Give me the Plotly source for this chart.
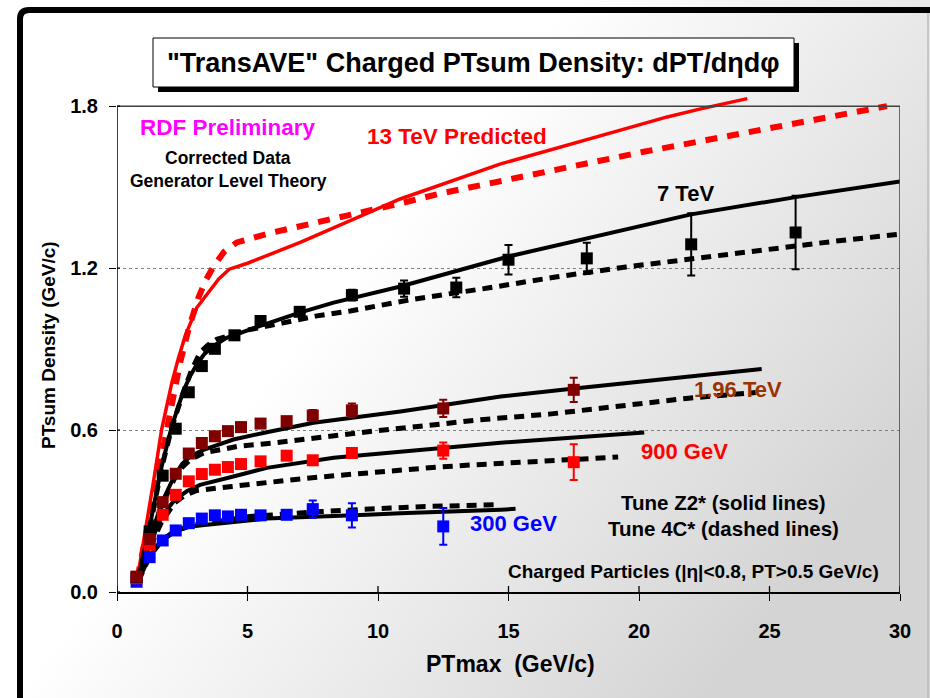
import base64
import plotly.graph_objects as go

# ---------------- data: measured points ----------------
x_7tev = [0.75, 1.25, 1.75, 2.25, 2.75, 3.25, 3.75, 4.5, 5.5, 7, 9, 11, 13, 15, 18, 22, 26]
y_7tev = [0.055, 0.224, 0.431, 0.605, 0.740, 0.837, 0.901, 0.951, 1.004, 1.038, 1.100, 1.124,
          1.128, 1.231, 1.236, 1.288, 1.332]
e_7tev = [0.005, 0.005, 0.008, 0.008, 0.008, 0.010, 0.010, 0.012, 0.015, 0.015, 0.020, 0.030,
          0.036, 0.055, 0.058, 0.115, 0.136]

x_196 = [0.75, 1.25, 1.75, 2.25, 2.75, 3.25, 3.75, 4.25, 4.75, 5.5, 6.5, 7.5, 9, 12.5, 17.5]
y_196 = [0.057, 0.196, 0.333, 0.438, 0.513, 0.552, 0.577, 0.596, 0.611, 0.624, 0.633, 0.654,
         0.673, 0.680, 0.749]
e_196 = [0.004, 0.005, 0.006, 0.008, 0.008, 0.008, 0.010, 0.010, 0.010, 0.012, 0.015, 0.020,
         0.025, 0.032, 0.045]

x_900 = [0.75, 1.25, 1.75, 2.25, 2.75, 3.25, 3.75, 4.25, 4.75, 5.5, 6.5, 7.5, 9, 12.5, 17.5]
y_900 = [0.051, 0.175, 0.286, 0.360, 0.410, 0.437, 0.453, 0.463, 0.474, 0.484, 0.505, 0.488,
         0.515, 0.524, 0.481]
e_900 = [0.004, 0.005, 0.006, 0.007, 0.008, 0.008, 0.008, 0.008, 0.010, 0.010, 0.012, 0.015,
         0.015, 0.030, 0.066]

x_300 = [0.75, 1.25, 1.75, 2.25, 2.75, 3.25, 3.75, 4.25, 4.75, 5.5, 6.5, 7.5, 9, 12.5]
y_300 = [0.038, 0.129, 0.191, 0.228, 0.255, 0.272, 0.284, 0.280, 0.286, 0.284, 0.286, 0.307,
         0.284, 0.243]
e_300 = [0.003, 0.004, 0.005, 0.006, 0.006, 0.007, 0.007, 0.008, 0.008, 0.009, 0.010, 0.032,
         0.045, 0.068]

# ---------------- data: generator-level theory curves ----------------
# Tune Z2* (solid) and Tune 4C* (dashed)
x_13_z2 = [0.78, 1.01, 1.2, 1.39, 1.71, 2.1, 2.35, 2.61, 3.06, 3.3, 3.57, 3.9, 4.3, 5.0, 7.02,
           10.85, 14.7, 18.53, 19.8, 21.08, 22.36, 24.15]
y_13_z2 = [0.05, 0.181, 0.29, 0.404, 0.602, 0.775, 0.865, 0.948, 1.054, 1.085, 1.115, 1.16,
           1.196, 1.218, 1.295, 1.456, 1.586, 1.688, 1.725, 1.76, 1.79, 1.828]
x_13_4c = [0.78, 1.39, 1.78, 2.1, 2.42, 2.74, 3.12, 3.4, 3.69, 4.1, 4.59, 5.87, 7.15, 8.49,
           9.77, 11.05, 12.32, 13.67, 14.94, 18.78, 20.13, 21.47, 22.8, 24.09, 25.43, 26.7,
           28.05, 29.5]
y_13_4c = [0.05, 0.354, 0.552, 0.713, 0.85, 0.973, 1.091, 1.155, 1.205, 1.26, 1.295, 1.33,
           1.357, 1.388, 1.416, 1.444, 1.475, 1.502, 1.527, 1.608, 1.63, 1.654, 1.679, 1.704,
           1.727, 1.752, 1.774, 1.8]

x_7_z2 = [0.82, 1.24, 1.71, 2.1, 2.54, 2.8, 3.06, 3.35, 3.69, 4.2, 5.49, 7.0, 8.3, 10.86, 15.0,
          18.0, 22.0, 26.0, 30.0]
y_7_z2 = [0.05, 0.237, 0.465, 0.614, 0.744, 0.8, 0.843, 0.882, 0.911, 0.942, 0.986, 1.035,
          1.072, 1.132, 1.243, 1.31, 1.399, 1.463, 1.521]
x_7_4c = [0.82, 1.24, 1.71, 2.1, 2.54, 2.85, 3.18, 3.5, 3.82, 4.97, 6.32, 7.66, 8.94, 10.28,
          11.37, 14.2, 16.8, 19.5, 22.2, 24.8, 27.45, 30.0]
y_7_4c = [0.05, 0.23, 0.46, 0.61, 0.74, 0.82, 0.887, 0.916, 0.936, 0.970, 0.996, 1.023, 1.041,
          1.066, 1.085, 1.126, 1.167, 1.204, 1.237, 1.268, 1.299, 1.326]

x_196_z2 = [0.82, 1.24, 1.71, 2.2, 2.5, 2.8, 3.31, 4.46, 5.74, 7.53, 10.86, 14.7, 17.34, 24.7]
y_196_z2 = [0.05, 0.19, 0.33, 0.43, 0.475, 0.502, 0.527, 0.565, 0.592, 0.627, 0.669, 0.724,
            0.752, 0.826]
x_196_4c = [0.82, 1.24, 1.71, 2.2, 2.5, 2.8, 3.31, 4.65, 6.0, 7.28, 8.55, 9.83, 11.24, 13.9,
            16.56, 19.22, 21.9, 24.47]
y_196_4c = [0.05, 0.19, 0.32, 0.42, 0.462, 0.49, 0.515, 0.54, 0.552, 0.568, 0.583, 0.596,
            0.61, 0.638, 0.659, 0.687, 0.718, 0.739]

x_900_z2 = [0.82, 1.24, 1.71, 2.2, 2.67, 3.18, 4.46, 5.74, 8.3, 10.86, 12.5, 14.7, 20.2]
y_900_z2 = [0.05, 0.17, 0.28, 0.34, 0.373, 0.397, 0.428, 0.46, 0.497, 0.52, 0.535, 0.553, 0.591]
x_900_4c = [0.82, 1.24, 1.71, 2.2, 2.6, 3.06, 4.4, 5.68, 7.02, 8.36, 9.7, 10.98, 12.32, 13.64,
            16.3, 19.2]
y_900_4c = [0.05, 0.16, 0.26, 0.33, 0.358, 0.376, 0.391, 0.406, 0.419, 0.431, 0.443, 0.453,
            0.463, 0.471, 0.487, 0.5]

x_300_z2 = [0.82, 1.24, 1.71, 2.2, 2.8, 3.18, 5.74, 9.58, 10.86, 14.7, 15.27]
y_300_z2 = [0.04, 0.13, 0.19, 0.225, 0.243, 0.247, 0.272, 0.286, 0.292, 0.305, 0.308]
x_300_4c = [0.82, 1.24, 1.71, 2.2, 2.8, 3.82, 5.1, 7.85, 9.19, 10.47, 11.82, 13.16, 14.49]
y_300_4c = [0.04, 0.13, 0.19, 0.225, 0.245, 0.261, 0.28, 0.298, 0.307, 0.311, 0.317, 0.319, 0.323]

x_ticks = [0, 5, 10, 15, 20, 25, 30]
y_ticks = [0.0, 0.6, 1.2, 1.8]
y_ticktext = ["0.0", "0.6", "1.2", "1.8"]

# ---------------- layout geometry ----------------
W, H = 930, 698
ML, MR, MT, MB = 117, 30, 94, 106
PW, PH = W - ML - MR, H - MT - MB
X_MAX, Y_MAX, Y_TOP = 30, 1.8, 1.845

FONT = "Liberation Sans, Arial, Helvetica, sans-serif"


def px(xp):
    return (xp - ML) / PW


def py(yp):
    return (H - MB - yp) / PH


fig = go.Figure()

# theory curves
DASH_BLACK = "10px,7px"
curves = [
    (x_13_z2, y_13_z2, "#ff0000", 3.5, "solid"),
    (x_13_4c, y_13_4c, "#ff0000", 6, "12px,10px"),
    (x_7_z2, y_7_z2, "black", 4, "solid"),
    (x_7_4c, y_7_4c, "black", 5, DASH_BLACK),
    (x_196_z2, y_196_z2, "black", 4, "solid"),
    (x_196_4c, y_196_4c, "black", 5, DASH_BLACK),
    (x_900_z2, y_900_z2, "black", 4, "solid"),
    (x_900_4c, y_900_4c, "black", 5, DASH_BLACK),
    (x_300_z2, y_300_z2, "black", 4, "solid"),
    (x_300_4c, y_300_4c, "black", 5, DASH_BLACK),
]
for xs, ys, col, w, dash in curves:
    fig.add_trace(go.Scatter(x=xs, y=ys, mode="lines", hoverinfo="skip",
                             line=dict(color=col, width=w, dash=dash)))

# measured points with error bars
points = [
    (x_300, y_300, e_300, "#0000ff"),
    (x_900, y_900, e_900, "#ff0000"),
    (x_7tev, y_7tev, e_7tev, "#000000"),
    (x_196, y_196, e_196, "#800000"),
]
for xs, ys, es, col in points:
    fig.add_trace(go.Scatter(
        x=xs, y=ys, mode="markers",
        marker=dict(symbol="square", size=12, color=col, line=dict(width=0)),
        error_y=dict(type="data", array=es, visible=True, color=col, thickness=2, width=4),
    ))

shapes = []
# plot frame
shapes.append(dict(type="line", xref="x", yref="y", x0=0, x1=X_MAX, y0=Y_MAX, y1=Y_MAX,
                   line=dict(color="#404040", width=1.5)))
shapes.append(dict(type="line", xref="x", yref="y", x0=X_MAX, x1=X_MAX, y0=0, y1=Y_MAX,
                   line=dict(color="#404040", width=1.5)))
shapes.append(dict(type="line", xref="x", yref="y", x0=0, x1=0, y0=0, y1=Y_MAX,
                   line=dict(color="black", width=1.5)))
# tick marks crossing the axes
for t in x_ticks:
    shapes.append(dict(type="line", xref="x", yref="paper", x0=t, x1=t, y0=0, y1=6 / PH,
                       line=dict(color="black", width=1.3)))
for t in y_ticks:
    shapes.append(dict(type="line", xref="paper", yref="y", x0=0, x1=3 / PW, y0=t, y1=t,
                       line=dict(color="black", width=1.3)))

# title box with drop shadow
bx0, by0, bx1, by1 = 153, 38, 794, 87
shapes.append(dict(type="rect", xref="paper", yref="paper",
                   x0=px(bx0 + 5), x1=px(bx1 + 5), y0=py(by0 + 5), y1=py(by1 + 5),
                   fillcolor="black", line=dict(width=0)))
shapes.append(dict(type="rect", xref="paper", yref="paper",
                   x0=px(bx0), x1=px(bx1), y0=py(by0), y1=py(by1),
                   fillcolor="white", line=dict(color="black", width=1)))

# outer rounded frame (left and top edges)
r = 9
path = (f"M {px(20)},{py(H + 10)} L {px(20)},{py(10 + r)} "
        f"Q {px(20)},{py(10)} {px(20 + r)},{py(10)} L {px(W + 10)},{py(10)}")
shapes.append(dict(type="path", xref="paper", yref="paper", path=path,
                   line=dict(color="black", width=6)))
shapes.append(dict(type="line", xref="paper", yref="paper", x0=px(928), x1=px(928),
                   y0=py(13), y1=py(H + 5), line=dict(color="#bdbdbd", width=1.5)))

# soft background shading
svg = (f'<svg xmlns="http://www.w3.org/2000/svg" width="{W}" height="{H}" '
       f'viewBox="0 0 {W} {H}" preserveAspectRatio="none">'
       '<defs><linearGradient id="g" x1="0" y1="0" x2="1" y2="0.6">'
       '<stop offset="0.45" stop-color="#ffffff"/>'
       '<stop offset="1" stop-color="#d4d4d4"/></linearGradient></defs>'
       f'<rect width="{W}" height="{H}" fill="url(#g)"/></svg>')
bg_src = "data:image/svg+xml;base64," + base64.b64encode(svg.encode()).decode()


def note(text, xp, yp, size, color="black"):
    return dict(text=text, xref="paper", yref="paper", x=px(xp), y=py(yp),
                xanchor="center", yanchor="middle", showarrow=False,
                font=dict(family=FONT, size=size, color=color, weight="bold"))


annotations = [
    note('"TransAVE" Charged PTsum Density: dPT/dηdφ', 473, 63, 27),
    note("RDF Preliminary", 228, 128, 22.5, "#ff00ff"),
    note("Corrected Data", 228, 158, 17.5),
    note("Generator Level Theory", 228, 181, 17.5),
    note("13 TeV Predicted", 457, 137, 22.5, "#ff0000"),
    note("7 TeV", 685, 193, 22),
    note("1.96 TeV", 738, 389, 22, "#993300"),
    note("900 GeV", 684, 451, 22, "#ff0000"),
    note("300 GeV", 513, 523, 22, "#0000ff"),
    note("Tune Z2* (solid lines)", 723, 502, 20.5),
    note("Tune 4C* (dashed lines)", 723, 528, 20.5),
    note("Charged Particles (|η|<0.8, PT>0.5 GeV/c)", 693, 571, 19),
    note("PTmax\u00a0\u00a0(GeV/c)", 510, 664, 23),
]
yt = note("PTsum Density (GeV/c)", 48, 345, 19)
yt["textangle"] = -90
annotations.append(yt)

fig.update_layout(
    width=W, height=H,
    margin=dict(l=ML, r=MR, t=MT, b=MB, pad=0),
    paper_bgcolor="white",
    plot_bgcolor="rgba(0,0,0,0)",
    showlegend=False,
    shapes=shapes,
    annotations=annotations,
    images=[dict(source=bg_src, xref="paper", yref="paper", x=px(0), y=py(0),
                 sizex=W / PW, sizey=H / PH, xanchor="left", yanchor="top",
                 sizing="stretch", layer="below")],
    xaxis=dict(range=[0, X_MAX], tickvals=x_ticks, ticks="outside", ticklen=7,
               tickwidth=1.3, tickcolor="black", showline=True, linecolor="black",
               linewidth=1.5, showgrid=False, zeroline=False, ticklabelstandoff=13,
               tickfont=dict(family=FONT, size=20, color="black", weight="bold")),
    yaxis=dict(range=[0, Y_TOP], tickvals=y_ticks, ticktext=y_ticktext, ticks="outside",
               ticklen=7, tickwidth=1.3, tickcolor="black", showline=False,
               showgrid=True, gridcolor="#808080", gridwidth=1, griddash="dot",
               zeroline=False, ticklabelstandoff=7,
               tickfont=dict(family=FONT, size=20, color="black", weight="bold")),
)

fig.write_html("out.html")
